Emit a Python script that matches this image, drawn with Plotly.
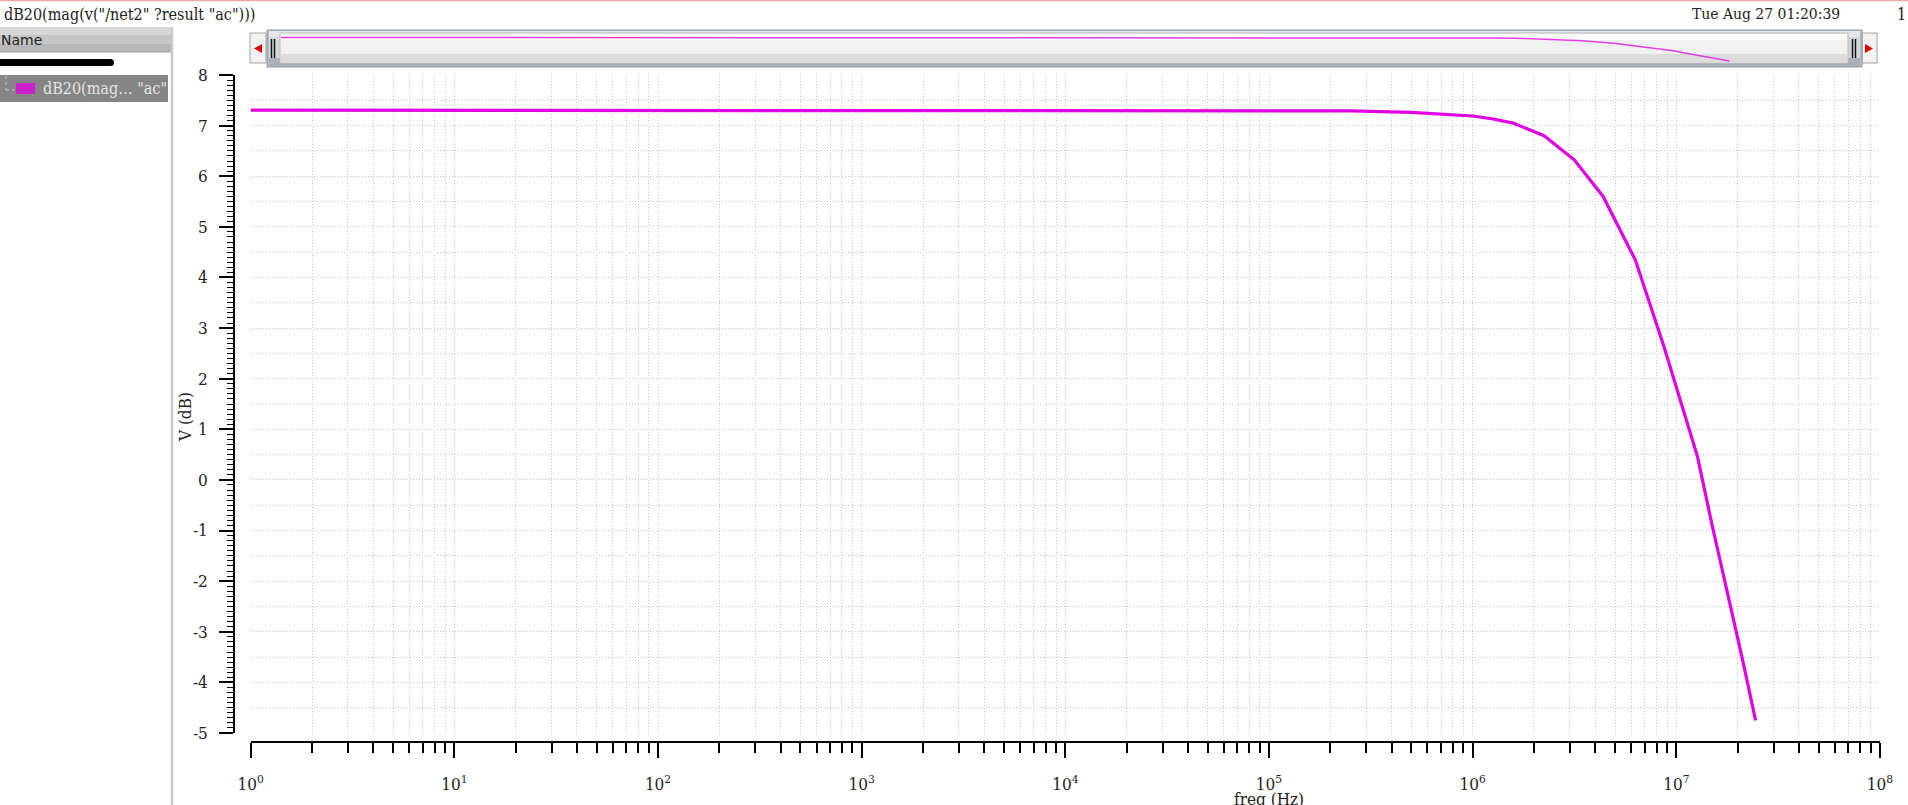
import plotly.graph_objects as go

# ---------------- data ----------------
freq_hz = [1, 10, 100, 1e3, 1e4, 1e5, 2.5e5, 5e5, 7e5, 1e6, 1.26e6, 1.58e6,
           2.24e6, 3.16e6, 4.37e6, 6.3e6, 8.7e6, 1e7, 1.27e7, 1.5e7, 1.78e7,
           2.1e7, 2.45e7]
gain_db = [7.305, 7.305, 7.305, 7.305, 7.305, 7.30, 7.29, 7.26, 7.23, 7.19,
           7.13, 7.05, 6.80, 6.32, 5.60, 4.34, 2.63, 1.85, 0.46, -0.90, -2.2,
           -3.5, -4.75]

x_exponents = list(range(0, 9))
x_major_vals = [10 ** e for e in x_exponents]
x_major_text = [f"10<sup>{e}</sup>" for e in x_exponents]
x_minor_vals = [m * 10 ** e for e in range(0, 8) for m in range(2, 10)]
x_grid_vals = sorted(x_major_vals + x_minor_vals)

y_major_vals = list(range(-5, 9))
y_major_text = [str(v) for v in y_major_vals]
y_minor_vals = [v / 10 for v in range(-50, 81) if v % 10 != 0]

title_text = 'dB20(mag(v("/net2" ?result "ac")))'
date_text = "Tue Aug 27 01:20:39"
legend_text = 'dB20(mag… "ac"'
x_title = "freq (Hz)"
y_title = "V (dB)"

# ---------------- layout helpers ----------------
W, H = 1908, 805


def fx(px):
    return px / W


def fy(py):
    return 1 - py / H


SERIF = "DejaVu Serif Condensed, DejaVu Serif, serif"
SANS = "DejaVu Sans, Noto Sans, sans-serif"
MAG = "#e100e1"
GRID = "#c4c4c4"

fig = go.Figure()

# main curve (grid axes)
fig.add_trace(go.Scatter(x=freq_hz, y=gain_db, mode="lines",
                         line=dict(color=MAG, width=3.2), xaxis="x", yaxis="y",
                         showlegend=False, hoverinfo="x+y"))
# same data on the tick axes (invisible) so those axes are drawn
fig.add_trace(go.Scatter(x=freq_hz, y=gain_db, mode="lines", opacity=0,
                         line=dict(color=MAG, width=1), xaxis="x2", yaxis="y2",
                         showlegend=False, hoverinfo="skip"))
# overview curve inside the scroll bar
fig.add_trace(go.Scatter(x=freq_hz, y=gain_db, mode="lines",
                         line=dict(color="#e23ce2", width=1.5), xaxis="x3",
                         yaxis="y3", showlegend=False, hoverinfo="skip"))

x_dom = [fx(250.7), fx(1880)]
y_dom = [fy(733), fy(75)]

fig.update_layout(
    template="none",
    width=W, height=H, autosize=False,
    margin=dict(l=0, r=0, t=0, b=0, pad=0),
    paper_bgcolor="white", plot_bgcolor="white",
    showlegend=False,
    xaxis=dict(type="log", range=[0, 8], domain=x_dom, anchor="y",
               tickvals=x_grid_vals, showticklabels=False, ticks="",
               showgrid=True, gridcolor=GRID, gridwidth=1, griddash="1px,2px",
               zeroline=False, showline=False, fixedrange=True,
               automargin=False),
    yaxis=dict(range=[-5, 8], domain=y_dom, anchor="x", dtick=0.5, tick0=0,
               showticklabels=False, ticks="", showgrid=True, gridcolor=GRID,
               gridwidth=1, griddash="1px,2px", zeroline=False,
               showline=False, fixedrange=True, automargin=False),
    xaxis2=dict(type="log", range=[0, 8], overlaying="x", anchor="free",
                position=fy(742), side="bottom",
                tickvals=x_major_vals, ticktext=x_major_text,
                ticks="outside", ticklen=15, tickwidth=1.5, tickcolor="black",
                minor=dict(tickvals=x_minor_vals, ticks="outside", ticklen=10,
                           tickwidth=1.5, tickcolor="black", showgrid=False),
                showline=True, linecolor="black", linewidth=1.5,
                showgrid=False, zeroline=False, ticklabelstandoff=12,
                tickfont=dict(family=SERIF, size=17, color="#222"),
                fixedrange=True, automargin=False),
    yaxis2=dict(range=[-5, 8], overlaying="y", anchor="free",
                position=fx(234), side="left",
                tickvals=y_major_vals, ticktext=y_major_text,
                ticks="outside", ticklen=14, tickwidth=1.5, tickcolor="black",
                minor=dict(tickvals=y_minor_vals, ticks="outside", ticklen=6,
                           tickwidth=1.2, tickcolor="black", showgrid=False),
                showline=True, linecolor="black", linewidth=1.5,
                showgrid=False, zeroline=False, ticklabelstandoff=8,
                tickfont=dict(family=SERIF, size=17, color="#222"),
                fixedrange=True, automargin=False),
    xaxis3=dict(type="log", range=[0, 8], domain=[fx(281), fx(1849)],
                anchor="y3", visible=False, fixedrange=True, automargin=False),
    yaxis3=dict(range=[-7.83, 11.15], domain=[fy(67), fy(30)],
                anchor="x3", visible=False, fixedrange=True, automargin=False),
)

shapes = []


def rect(x0, y0, x1, y1, fill, line=None, lw=0, layer="below"):
    shapes.append(dict(type="rect", xref="paper", yref="paper",
                       x0=fx(x0), x1=fx(x1), y0=fy(y1), y1=fy(y0),
                       fillcolor=fill, layer=layer,
                       line=dict(color=line or fill, width=lw)))


def seg(x0, y0, x1, y1, color, width=1, dash=None, layer="below"):
    d = dict(color=color, width=width)
    if dash:
        d["dash"] = dash
    shapes.append(dict(type="line", xref="paper", yref="paper",
                       x0=fx(x0), x1=fx(x1), y0=fy(y0), y1=fy(y1),
                       line=d, layer=layer))


def path(points, fill, line=None, lw=0, layer="below"):
    p = "M " + " L ".join(f"{fx(a):.6f},{fy(b):.6f}" for a, b in points) + " Z"
    shapes.append(dict(type="path", xref="paper", yref="paper", path=p,
                       fillcolor=fill, layer=layer,
                       line=dict(color=line or fill, width=lw)))


# window top border
seg(0, 0.5, W, 0.5, "#e9a9a9", 1.5)

# ---- left panel ----
rect(0, 27, 172, 35, "#d6d6d6")
rect(0, 35, 172, 44, "#c6c6c6")
rect(0, 44, 172, 52, "#b8b8b8")
seg(0, 52, 172, 52, "#9a9a9a", 1)
rect(0, 59, 110, 66, "black")
shapes.append(dict(type="circle", xref="paper", yref="paper",
                   x0=fx(107), x1=fx(114), y0=fy(66), y1=fy(59),
                   fillcolor="black", line=dict(width=0)))
rect(0, 75, 168, 102, "#858585")
seg(6, 76, 6, 90, "#c8c8c8", 1, "dot")
seg(6, 90, 14, 90, "#c8c8c8", 1, "dot")
rect(16, 83, 35, 94, "#cc22cc")
seg(172, 27, 172, H, "#c9c9c9", 2.5)

# ---- scroll bar ----
rect(250, 33, 266, 63, "#f2f2f2", "#9ea2a6", 1)
path([(262, 44), (262, 53), (254, 48.5)], "#e00000")
rect(1862, 33, 1877, 63, "#f2f2f2", "#9ea2a6", 1)
path([(1865, 44), (1865, 53), (1873, 48.5)], "#e00000")
# handle body
rect(267, 30, 1862, 67, "#b9bec4", "#8f969d", 1)
rect(269, 31, 1860, 37, "#e4e7ea")
rect(269, 37, 1860, 58, "#d3d7db")
rect(269, 58, 1860, 66, "#aab0b6")
# inner track
rect(280, 33, 1848, 63, "#f6f6f6", "#b5b9bd", 1)
rect(281, 34, 1847, 40, "#fcfcfc")
rect(281, 40, 1847, 54, "#f1f1f1")
rect(281, 54, 1847, 63, "#dcdcdc")
# grips
for gx in (271.5, 274.5, 1852.5, 1855.5):
    seg(gx, 39, gx, 58, "#111", 1.5)

fig.update_layout(shapes=shapes)

ann = []


def text(x, y, s, size=16, family=SERIF, color="#222", xanchor="left",
         yanchor="middle", angle=0):
    ann.append(dict(xref="paper", yref="paper", x=fx(x), y=fy(y), text=s,
                    showarrow=False, xanchor=xanchor, yanchor=yanchor,
                    textangle=angle,
                    font=dict(family=family, size=size, color=color)))


text(2, 14, title_text, 16)
text(1690, 14, date_text, 15.5)
text(1901, 14, "1", 16, xanchor="center")
text(-1, 40, "Name", 14, family=SANS, color="#202020")
text(41, 88.5, legend_text, 16, color="#e6e6e6")
text(185, 417, y_title, 17, xanchor="center", angle=-90)
text(1269, 787, x_title, 17, xanchor="center", yanchor="top")
fig.update_layout(annotations=ann)

fig.write_html("out.html")
